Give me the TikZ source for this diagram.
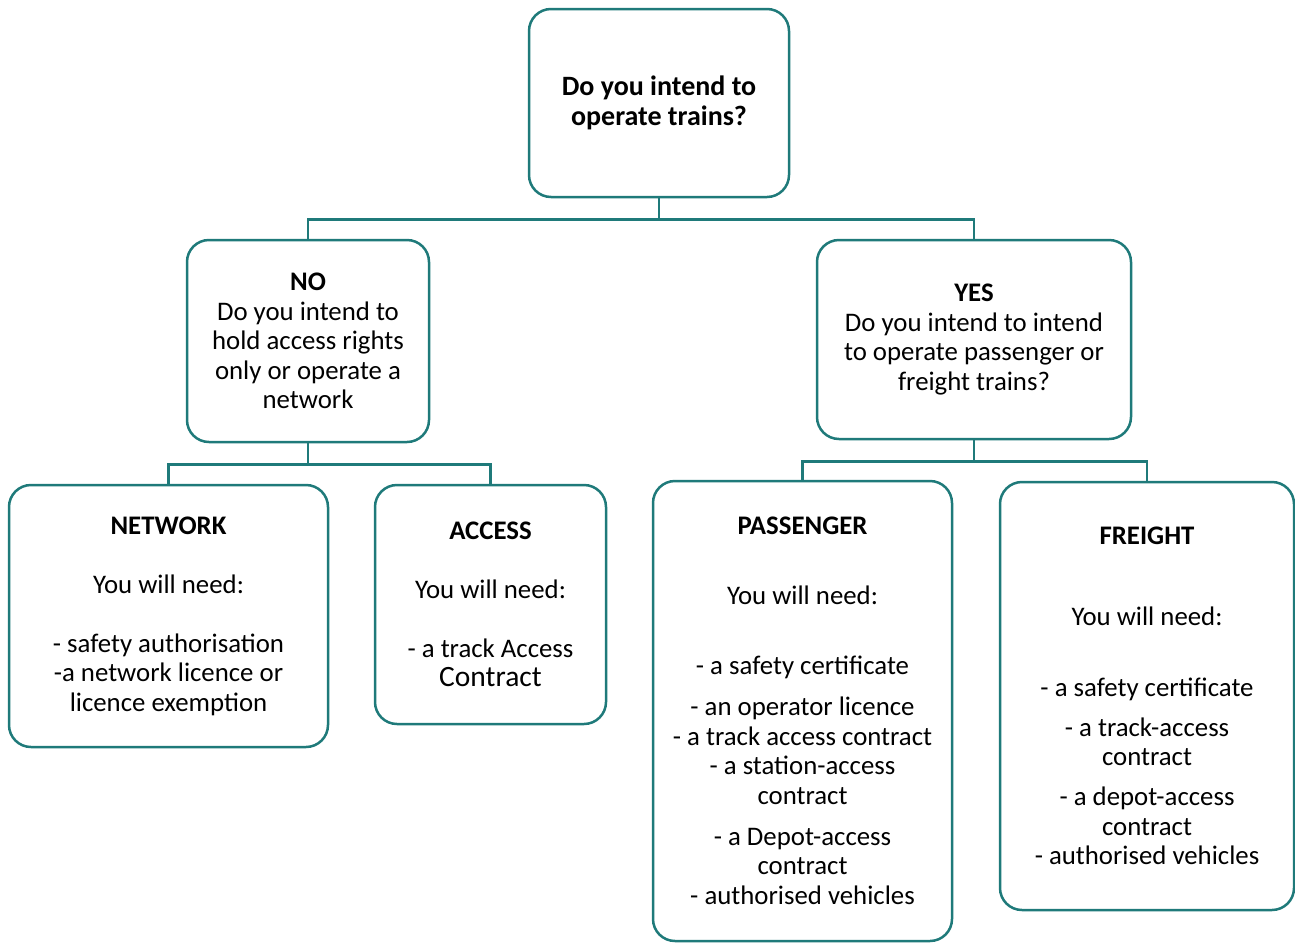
\documentclass[tikz,border=0pt]{standalone}
\usepackage{fontspec}
\setmainfont{Carlito}
\definecolor{deepteal}{HTML}{1F7A7A}

\begin{document}
\begin{tikzpicture}[x=1pt,y=-1pt,
  box/.style={draw=deepteal,line width=2.5pt,rounded corners=22pt,align=center,
    inner sep=0pt,font=\fontsize{26.8}{29.5}\selectfont},
  link/.style={draw=deepteal,line width=2.5pt}]
  \useasboundingbox (0,0) rectangle (1295,943);
  % question boxes
  \node[box,font=\fontsize{28}{30}\selectfont\bfseries,minimum width=260,minimum height=188]
    (trains) at (659,103) {Do you intend to\\operate trains?};
  \node[box,minimum width=242,minimum height=202] (no) at (308,341)
    {\textbf{NO}\\Do you intend to\\hold access rights\\only or operate a\\network};
  \node[box,minimum width=314,minimum height=199] (yes) at (974,339.5)
    {\textbf{YES}\\Do you intend to intend\\to operate passenger or\\freight trains?};
  % answer boxes
  \node[box,minimum width=319,minimum height=262] (network) at (168.5,616)
    {\textbf{NETWORK}\\[29.5pt]You will need:\\[29.5pt]- safety authorisation\\-a network licence or\\licence exemption};
  \node[box,minimum width=231,minimum height=239] (access) at (490.5,604.5)
    {\textbf{ACCESS}\\[29.5pt]You will need:\\[29.5pt]- a track Access\\{\fontsize{29.5}{30}\selectfont Contract}};
  \node[box,minimum width=299,minimum height=460] (passenger) at (802.5,711)
    {\textbf{PASSENGER}\\[40.5pt]You will need:\\[40.5pt]- a safety certificate\\[11.5pt]- an operator licence\\- a track access contract\\- a station-access\\contract\\[11.5pt]- a Depot-access\\contract\\- authorised vehicles};
  \node[box,minimum width=294,minimum height=428] (freight) at (1147,696)
    {\textbf{FREIGHT}\\[51.5pt]You will need:\\[41.5pt]- a safety certificate\\[10.5pt]- a track-access\\contract\\[10.5pt]- a depot-access\\contract\\- authorised vehicles};
  % connectors
  \draw[link] (trains.south) -- ++(0,21) coordinate (split) -| (no.north);
  \draw[link] (split) -| (yes.north);
  \draw[link] (no.south) -- ++(0,21) coordinate (nosplit) -| (network.north);
  \draw[link] (nosplit) -| (access.north);
  \draw[link] (yes.south) -- ++(0,21) coordinate (yessplit) -| (passenger.north);
  \draw[link] (yessplit) -| (freight.north);
\end{tikzpicture}
\end{document}
